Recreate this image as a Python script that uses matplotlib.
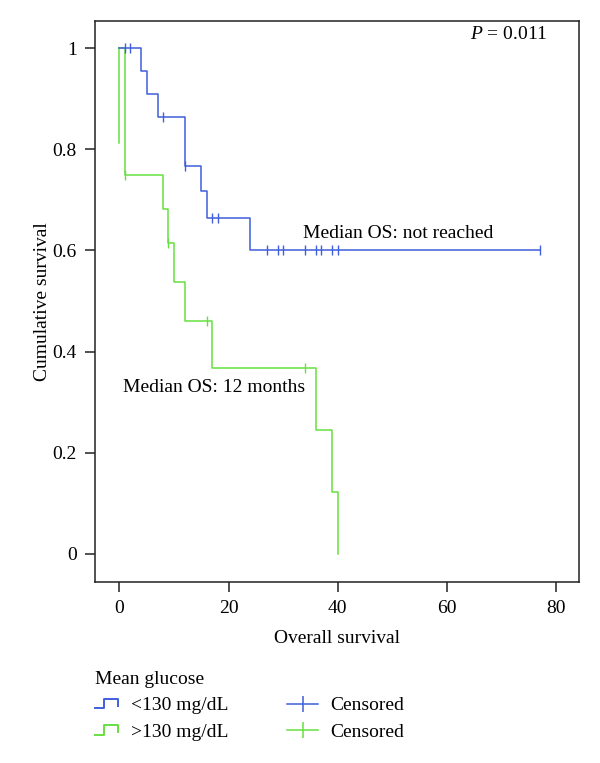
import numpy as np
import matplotlib
matplotlib.use("Agg")
import matplotlib.pyplot as plt
from matplotlib.lines import Line2D
from matplotlib.legend_handler import HandlerBase

# ---- data ----
blue_label = "<130 mg/dL"
blue_times = [0, 4, 5, 7, 12, 15, 16, 24, 77]
blue_surv = [1.0, 0.955, 0.909, 0.864, 0.768, 0.717, 0.665, 0.600, 0.600]
blue_censor_t = [1, 2, 8, 12, 17, 18, 27, 29, 30, 34, 36, 37, 39, 40, 77]

green_label = ">130 mg/dL"
green_times = [0, 1, 8, 9, 10, 12, 17, 36, 39, 40]
green_surv = [1.0, 0.75, 0.682, 0.614, 0.537, 0.460, 0.368, 0.245, 0.123, 0.0]
green_censor_t = [1, 9, 16, 34]
green_t0_drop = [1.0, 0.8125]

x_ticks = [0, 20, 40, 60, 80]
y_ticks = [0, 0.2, 0.4, 0.6, 0.8, 1]
y_ticklabels = ["0", "0.2", "0.4", "0.6", "0.8", "1"]

BLUE = "#3f5fdc"
GREEN = "#66e040"

plt.rcParams['font.family'] = ['Liberation Serif', 'DejaVu Serif']
plt.rcParams['mathtext.fontset'] = 'custom'
plt.rcParams['mathtext.it'] = 'Liberation Serif:italic'
plt.rcParams['mathtext.rm'] = 'Liberation Serif'

FS = 14

def step_value(times, surv, t):
    idx = np.searchsorted(times, t, side='right') - 1
    return np.asarray(surv)[idx]

fig = plt.figure(figsize=(6, 7.63), dpi=100)
ax = fig.add_axes([95/600, 1 - 581.5/763, (578.5 - 95)/600, (581.5 - 21)/763])

ax.plot([0, 0], green_t0_drop, color=GREEN, lw=1.1)
ax.step(green_times, green_surv, where='post', color=GREEN, lw=1.1)
ax.plot(green_censor_t, step_value(green_times, green_surv, green_censor_t),
        ls='none', marker='|', ms=7.5, mew=1.0, color=GREEN)
ax.step(blue_times, blue_surv, where='post', color=BLUE, lw=1.1)
ax.plot(blue_censor_t, step_value(blue_times, blue_surv, blue_censor_t),
        ls='none', marker='|', ms=7.5, mew=1.0, color=BLUE)

ax.set_xlim(-4.45, 84.1)
ax.set_ylim(-0.055, 1.054)
ax.set_xticks(x_ticks)
ax.set_yticks(y_ticks)
ax.set_yticklabels(y_ticklabels)
ax.tick_params(direction='out', length=7, width=1.1, labelsize=FS, pad=6, color='#222222')
for s in ax.spines.values():
    s.set_linewidth(1.1)
    s.set_color('#222222')

ax.set_xlabel("Overall survival", fontsize=FS, labelpad=10)
ax.set_ylabel("Cumulative survival", fontsize=FS, labelpad=1)

ax.text(33.7, 0.634, "Median OS: not reached", fontsize=FS, va='center', ha='left')
ax.text(0.7, 0.329, "Median OS: 12 months", fontsize=FS, va='center', ha='left')
ax.text(78.5, 1.028, "$P$ = 0.011", fontsize=FS, va='center', ha='right')


class StepHandler(HandlerBase):
    def create_artists(self, legend, orig_handle, xdescent, ydescent,
                       width, height, fontsize, trans):
        xs = np.array([0.0, 0.4, 0.4, 1.0, 1.0]) * width - xdescent
        ys = np.array([0.15, 0.15, 0.85, 0.85, 0.35]) * height - ydescent
        ln = Line2D(xs, ys, color=orig_handle.get_color(), lw=1.4)
        ln.set_transform(trans)
        return [ln]


h_blue = Line2D([], [], color=BLUE)
h_green = Line2D([], [], color=GREEN)
leg1 = fig.legend([h_blue, h_green], [blue_label, green_label],
                  handler_map={Line2D: StepHandler()},
                  title="Mean glucose", title_fontsize=FS, fontsize=FS,
                  loc='upper left', bbox_to_anchor=(95/600, 1 - 671/763),
                  bbox_transform=fig.transFigure, frameon=False,
                  borderpad=0, borderaxespad=0, handlelength=1.2,
                  handletextpad=0.65, labelspacing=0.45, alignment='left')

hc_blue = Line2D([], [], color=BLUE, marker='|', ms=11, mew=1.1, lw=1.1)
hc_green = Line2D([], [], color=GREEN, marker='|', ms=11, mew=1.1, lw=1.1)
leg2 = fig.legend([hc_blue, hc_green], ["Censored", "Censored"],
                  title=" ", title_fontsize=FS, fontsize=FS,
                  loc='upper left', bbox_to_anchor=(287/600, 1 - 671/763),
                  bbox_transform=fig.transFigure, frameon=False,
                  borderpad=0, borderaxespad=0, handlelength=1.6,
                  handletextpad=0.6, labelspacing=0.45, alignment='left')

fig.savefig("out.png", dpi=100)
